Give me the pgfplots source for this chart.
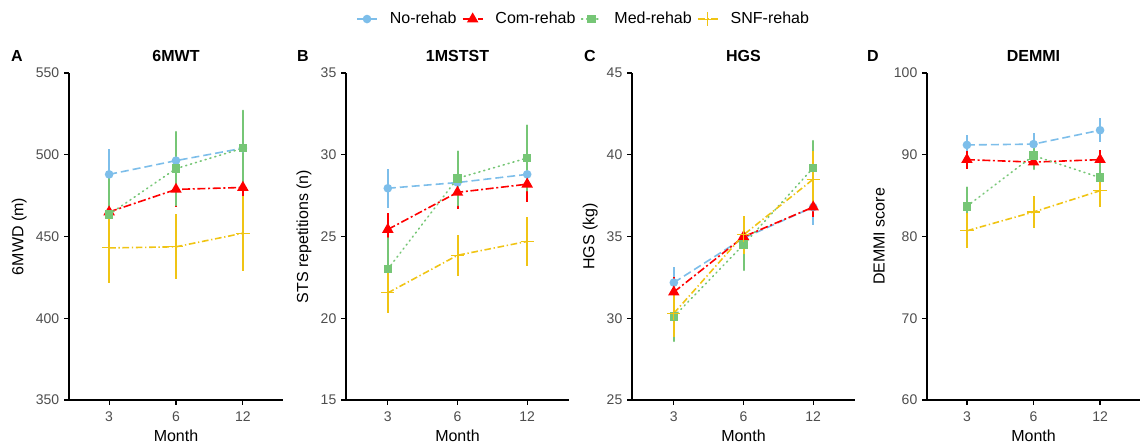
\documentclass[border=0pt]{standalone}
\usepackage{fontspec}
\setmainfont{Liberation Sans}
\usepackage{pgfplots}
\pgfplotsset{compat=1.18}
\definecolor{cno}{HTML}{7DBEEA}
\definecolor{ccom}{HTML}{FF0000}
\definecolor{cmed}{HTML}{76C676}
\definecolor{csnf}{HTML}{F0C414}
\definecolor{tickgray}{HTML}{4D4D4D}

\pgfplotsset{
  panel/.style={
    scale only axis, height=245.25pt,
    xmin=0.4, xmax=3.6,
    xtick={1,2,3}, xticklabels={3,6,12},
    axis x line*=bottom, axis y line*=left,
    axis line style={-, black, line width=0.9pt},
    tick align=outside, major tick length=3.75pt,
    tick style={black, line width=0.9pt},
    ticklabel style={font=\fontsize{10.5}{12}\selectfont, text=tickgray},
    xticklabel style={yshift=-1.5pt},
    /pgf/number format/assume math mode=true,
    xlabel={Month},
    xlabel style={font=\fontsize{12}{14}\selectfont, yshift=1pt},
    ylabel style={font=\fontsize{12}{14}\selectfont},
    title style={font=\fontsize{12}{14}\selectfont\bfseries, yshift=-1pt},
    clip=false,
    error bars/y dir=both, error bars/y explicit,
    error bars/error mark=none,
  },
  nor/.style={color=cno, line width=1.2pt, dash pattern=on 6pt off 3pt,
    mark=*, mark size=2.6pt, mark options={solid},
    error bars/error bar style={solid, line width=1.5pt, cno}},
  com/.style={color=ccom, line width=1.2pt, dash pattern=on 6pt off 2pt on 1.5pt off 2pt,
    mark=triangle*, mark size=3.8pt, mark options={solid},
    error bars/error bar style={solid, line width=1.5pt, ccom}},
  med/.style={color=cmed, line width=1.2pt, dash pattern=on 0.8pt off 3pt, line cap=round,
    mark=square*, mark size=2.6pt, mark options={solid},
    error bars/error bar style={solid, line width=1.5pt, cmed}},
  snf/.style={color=csnf, line width=1.2pt, dash pattern=on 5pt off 2pt on 1pt off 2pt,
    mark=+, mark size=5pt, mark options={solid, line width=0.8pt},
    error bars/error bar style={solid, line width=1.5pt, csnf}},
}

\begin{document}
\begin{tikzpicture}
\path[use as bounding box] (0,0) rectangle (858.75pt,333.75pt);

% A: 6MWT
\begin{axis}[panel, at={(51.75pt,33.75pt)}, width=160.5pt,
  ymin=350, ymax=550, ytick={350,400,450,500,550},
  ylabel={6MWD (m)}, title={6MWT}]
\addplot[nor] coordinates {(1,488) +- (0,15.6) (2,496.4) +- (0,13) (3,504) +- (0,14)};
\addplot[com] coordinates {(1,465) +- (0,15) (2,478.8) +- (0,11) (3,480) +- (0,14)};
\addplot[med] coordinates {(1,463.5) +- (0,22) (2,491.5) +- (0,22.5) (3,504) +- (0,23)};
\addplot[snf] coordinates {(1,443) +- (0,21.5) (2,443.7) +- (0,20) (3,452) +- (0,23)};
\end{axis}

% B: 1MSTST
\begin{axis}[panel, at={(259.5pt,33.75pt)}, width=167.25pt,
  ymin=15, ymax=35, ytick={15,20,25,30,35},
  ylabel={STS repetitions (n)}, title={1MSTST},
  legend columns=4,
  legend style={at={(1.067,1.165)}, anchor=center, draw=none, fill=none,
    font=\fontsize{12}{14}\selectfont,
    /tikz/every odd column/.append style={column sep=7pt},
    /tikz/every even column/.append style={column sep=2pt}},
  legend image code/.code={\draw[mark repeat=2,mark phase=2]
    plot coordinates {(0pt,0pt)(7.5pt,0pt)(15pt,0pt)};}]
\addplot[nor] coordinates {(1,27.95) +- (0,1.2) (2,28.3) +- (0,1.1) (3,28.8) +- (0,1.1)};
\addplot[com] coordinates {(1,25.43) +- (0,1.0) (2,27.7) +- (0,1.0) (3,28.2) +- (0,1.1)};
\addplot[med] coordinates {(1,23.0) +- (0,1.9) (2,28.56) +- (0,1.65) (3,29.8) +- (0,2.0)};
\addplot[snf] coordinates {(1,21.55) +- (0,1.25) (2,23.85) +- (0,1.25) (3,24.7) +- (0,1.5)};
\legend{No-rehab,Com-rehab,Med-rehab,SNF-rehab}
\end{axis}

% C: HGS
\begin{axis}[panel, at={(474pt,33.75pt)}, width=167.25pt,
  ymin=25, ymax=45, ytick={25,30,35,40,45},
  ylabel={HGS (kg)}, title={HGS}]
\addplot[nor] coordinates {(1,32.18) +- (0,0.95) (2,34.9) +- (0,0.9) (3,36.8) +- (0,1.1)};
\addplot[com] coordinates {(1,31.6) +- (0,0.9) (2,34.98) +- (0,0.9) (3,36.8) +- (0,0.6)};
\addplot[med] coordinates {(1,30.1) +- (0,1.5) (2,34.5) +- (0,1.55) (3,39.2) +- (0,1.65)};
\addplot[snf] coordinates {(1,30.3) +- (0,1.45) (2,35.1) +- (0,1.15) (3,38.5) +- (0,1.7)};
\end{axis}

% D: DEMMI
\begin{axis}[panel, at={(695.25pt,33.75pt)}, width=159.75pt,
  ymin=60, ymax=100, ytick={60,70,80,90,100},
  ylabel={DEMMI score}, title={DEMMI}]
\addplot[nor] coordinates {(1,91.2) +- (0,1.2) (2,91.3) +- (0,1.4) (3,93.0) +- (0,1.45)};
\addplot[com] coordinates {(1,89.4) +- (0,1.1) (2,89.1) +- (0,0.8) (3,89.4) +- (0,1.15)};
\addplot[med] coordinates {(1,83.7) +- (0,2.3) (2,89.9) +- (0,1.65) (3,87.2) +- (0,2.45)};
\addplot[snf] coordinates {(1,80.7) +- (0,2.15) (2,83.0) +- (0,1.95) (3,85.6) +- (0,1.95)};
\end{axis}

\begin{scope}[font=\fontsize{12}{14}\selectfont\bfseries]
\node at (12.75pt,291.75pt) {A};
\node at (227.25pt,291.75pt) {B};
\node at (442.5pt,291.75pt) {C};
\node at (654.75pt,291.75pt) {D};
\end{scope}
\end{tikzpicture}
\end{document}
